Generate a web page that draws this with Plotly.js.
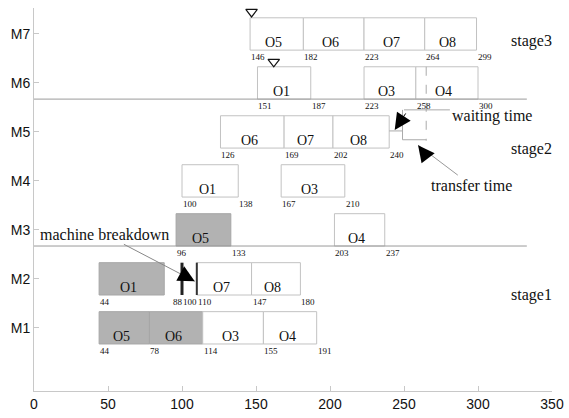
<!DOCTYPE html>
<html>
<head>
<meta charset="utf-8">
<script src="https://cdn.plot.ly/plotly-3.0.1.min.js"></script>
<style>html,body{margin:0;padding:0;background:#fff;}#chart{width:569px;height:418px;}</style>
</head>
<body>
<div id="chart"></div>
<script>
// ---- data ----
const machineNames = ['M1', 'M2', 'M3', 'M4', 'M5', 'M6', 'M7'];
const machineLevels = [1, 2, 3, 4, 5, 6, 7];
const xTicks = [0, 50, 100, 150, 200, 250, 300, 350];

const barMachine = [7, 7, 7, 7, 6, 6, 6, 5, 5, 5, 4, 4, 3, 3, 2, 2, 2, 1, 1, 1, 1];
const barStart   = [146, 182, 223, 264, 151, 223, 258, 126, 169, 202, 100, 167, 96, 203, 44, 110, 147, 44, 78, 114, 155];
const barEnd     = [182, 223, 264, 299, 187, 258, 300, 169, 202, 240, 138, 210, 133, 237, 88, 147, 180, 78, 114, 155, 191];
const barOp      = ['O5', 'O6', 'O7', 'O8', 'O1', 'O3', 'O4', 'O6', 'O7', 'O8', 'O1', 'O3', 'O5', 'O4', 'O1', 'O7', 'O8', 'O5', 'O6', 'O3', 'O4'];
const barShaded  = [0, 0, 0, 0, 0, 0, 0, 0, 0, 0, 0, 0, 1, 0, 1, 0, 0, 1, 1, 0, 0];

const timeLabelsM7 = [146, 182, 223, 264, 299];
const timeLabelsM6 = [151, 187, 223, 258, 300];
const timeLabelsM5 = [126, 169, 202, 240];
const timeLabelsM4 = [100, 138, 167, 210];
const timeLabelsM3 = [96, 133, 203, 237];
const timeLabelsM2 = [44, 88, 100, 110, 147, 180];
const timeLabelsM1 = [44, 78, 114, 155, 191];

const stageNames = ['stage3', 'stage2', 'stage1'];
const stageLevels = [6.86, 4.65, 1.67];
const stageBoundaries = [5.67, 2.67];

const breakdownStart = 100;
const breakdownEnd = 110;
const breakdownMachine = 2;

const markerTimes = [147, 162];
const markerLevels = [7.45, 6.43];

// ---- styling ----
const serif = 'Liberation Serif, Times New Roman, serif';
const sans = 'Liberation Sans, Arial, sans-serif';
const barW = 0.66;

const traces = [];
traces.push({
  type: 'bar', orientation: 'h',
  y: barMachine,
  x: barEnd.map((e, i) => e - barStart[i]),
  base: barStart,
  width: barW,
  marker: {
    color: barShaded.map(s => s ? '#b2b2b2' : '#ffffff'),
    line: { color: barShaded.map(s => s ? '#a6a6a6' : '#c2c2c2'), width: 1 }
  },
  hoverinfo: 'skip', showlegend: false
});
traces.push({
  type: 'scatter', mode: 'markers',
  x: markerTimes, y: markerLevels,
  marker: { symbol: 'triangle-down-open', size: 10, color: '#111', line: { width: 1.2, color: '#111' } },
  cliponaxis: false, hoverinfo: 'skip', showlegend: false
});

const annotations = [];
// operation labels
barOp.forEach((op, i) => {
  annotations.push({
    x: (barStart[i] + barEnd[i]) / 2, y: barMachine[i] - 0.18,
    xref: 'x', yref: 'y', text: op, showarrow: false, xshift: -3,
    font: { family: serif, size: 14, color: '#111' }
  });
});
// time labels
const timeRows = [timeLabelsM1, timeLabelsM2, timeLabelsM3, timeLabelsM4, timeLabelsM5, timeLabelsM6, timeLabelsM7];
timeRows.forEach((arr, r) => {
  arr.forEach((t) => {
    let shift = 0;
    if (r === 1 && t === 88) shift = 8;
    annotations.push({
      x: t, y: (r + 1) - barW / 2 - 0.145, xref: 'x', yref: 'y',
      text: String(t), showarrow: false, xanchor: 'left', xshift: shift - 1,
      font: { family: serif, size: 9, color: '#111' }
    });
  });
});
// stages
stageNames.forEach((s, i) => {
  annotations.push({
    x: 321, y: stageLevels[i], xref: 'x', yref: 'y', text: s, showarrow: false, xanchor: 'left',
    font: { family: serif, size: 16, color: '#111' }
  });
});
// waiting time
annotations.push({
  x: 281, y: 5.32, xref: 'x', yref: 'y', text: 'waiting time', showarrow: false, xanchor: 'left',
  font: { family: serif, size: 16, color: '#111' }
});
annotations.push({
  x: 243.7, y: 5.04, xref: 'x', yref: 'y', text: '', showarrow: true,
  ax: 12, ay: -18, arrowhead: 2, arrowsize: 3.3, arrowwidth: 1, arrowcolor: '#000'
});
// transfer time
annotations.push({
  x: 259.5, y: 4.73, xref: 'x', yref: 'y', text: 'transfer time', showarrow: true,
  ax: 53, ay: 40, arrowhead: 0, arrowwidth: 1, arrowcolor: '#999',
  font: { family: serif, size: 16, color: '#111' }
});
annotations.push({
  x: 259.5, y: 4.73, xref: 'x', yref: 'y', text: '', showarrow: true,
  ax: 10, ay: 13, arrowhead: 2, arrowsize: 3.3, arrowwidth: 1, arrowcolor: '#000'
});
// machine breakdown (text with gray leader, plus black head)
annotations.push({
  x: 108.6, y: 1.95, xref: 'x', yref: 'y', text: 'machine breakdown', showarrow: true,
  ax: -90, ay: -47, arrowhead: 0, arrowwidth: 1, arrowcolor: '#888',
  font: { family: serif, size: 16, color: '#111' }
});
annotations.push({
  x: 108.6, y: 1.95, xref: 'x', yref: 'y', text: '', showarrow: true,
  ax: -11, ay: -6, arrowhead: 2, arrowsize: 3.3, arrowwidth: 1, arrowcolor: '#000'
});

const shapes = [];
stageBoundaries.forEach(b => {
  shapes.push({ type: 'line', xref: 'x', yref: 'y', x0: 0, x1: 333, y0: b, y1: b, line: { color: '#9a9a9a', width: 1 } });
});
// breakdown marks
shapes.push({ type: 'line', xref: 'x', yref: 'y', x0: breakdownStart, x1: breakdownStart,
  y0: breakdownMachine - barW / 2, y1: breakdownMachine + barW / 2, line: { color: '#222', width: 3 } });
shapes.push({ type: 'line', xref: 'x', yref: 'y', x0: breakdownEnd, x1: breakdownEnd,
  y0: breakdownMachine - barW / 2, y1: breakdownMachine + barW / 2, line: { color: '#333', width: 2 } });
// waiting / transfer construction lines
shapes.push({ type: 'line', xref: 'x', yref: 'y', x0: 265, x1: 265, y0: 6.33, y1: 4.82, line: { color: '#aaa', width: 1, dash: 'dash' } });
shapes.push({ type: 'line', xref: 'x', yref: 'y', x0: 240, x1: 249, y0: 5.02, y1: 5.02, line: { color: '#aaa', width: 1 } });
shapes.push({ type: 'line', xref: 'x', yref: 'y', x0: 249, x1: 249, y0: 5.45, y1: 4.84, line: { color: '#aaa', width: 1 } });
shapes.push({ type: 'line', xref: 'x', yref: 'y', x0: 249, x1: 265, y0: 4.84, y1: 4.84, line: { color: '#aaa', width: 1 } });
shapes.push({ type: 'line', xref: 'x', yref: 'y', x0: 250, x1: 281, y0: 5.45, y1: 5.45, line: { color: '#aaa', width: 1 } });

const layout = {
  width: 569, height: 418,
  margin: { l: 34, r: 17, t: 8, b: 27 },
  paper_bgcolor: '#fff', plot_bgcolor: '#fff',
  showlegend: false,
  xaxis: {
    range: [0, 350], tickvals: xTicks, ticktext: xTicks.map(String),
    showgrid: false, zeroline: false, showline: true, linecolor: '#c8c8c8', linewidth: 1,
    ticks: 'inside', ticklen: 5, tickcolor: '#c8c8c8',
    tickfont: { family: sans, size: 14, color: '#111' }
  },
  yaxis: {
    range: [-0.29, 7.53], tickvals: machineLevels, ticktext: machineNames,
    showgrid: false, zeroline: false, showline: true, linecolor: '#c8c8c8', linewidth: 1,
    ticks: 'inside', ticklen: 5, tickcolor: '#c8c8c8',
    tickfont: { family: sans, size: 14, color: '#111' }
  },
  annotations: annotations,
  shapes: shapes
};

Plotly.newPlot('chart', traces, layout, { staticPlot: true, displayModeBar: false });
</script>
</body>
</html>
